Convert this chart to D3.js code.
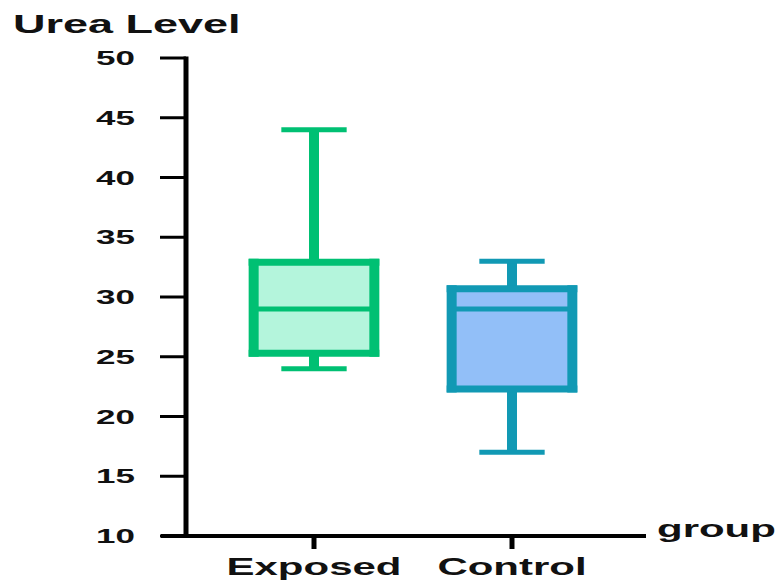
<!DOCTYPE html>
<html>
<head>
<meta charset="utf-8">
<script src="https://cdn.jsdelivr.net/npm/d3@7"></script>
<style>
  body { margin: 0; background: #fff; }
  text { font-family: "Liberation Sans", Arial, sans-serif; font-weight: bold; fill: #111; }
</style>
</head>
<body>
<main></main>
<script>
// data
var groups = ["Exposed", "Control"];
var mins    = [24, 17];
var q1s     = [25.3, 22.3];
var medians = [29, 29];
var q3s     = [32.9, 30.7];
var maxs    = [44, 33];
var strokes = ["#00c073", "#1199b4"];
var fills   = ["#b4f5dc", "#92bff8"];
var yTicks  = [10, 15, 20, 25, 30, 35, 40, 45, 50];

var stretch = 1.75; // text in the picture is wide

var svg = d3.select("main")
  .append("svg")
    .attr("width", 779)
    .attr("height", 584);

var x = d3.scaleBand().domain(groups).range([215, 611]);
var y = d3.scaleLinear().domain([10, 50]).range([536, 58]);

var boxW = x.bandwidth() * 0.66;
var capW = boxW / 2;

// axes
svg.append("line")
  .attr("x1", 161).attr("x2", 646)
  .attr("y1", y(10)).attr("y2", y(10))
  .attr("stroke", "#000").attr("stroke-width", 4);
svg.append("line")
  .attr("x1", 186).attr("x2", 186)
  .attr("y1", y(50) - 1.5).attr("y2", y(10))
  .attr("stroke", "#000").attr("stroke-width", 5);

yTicks.forEach(function(t) {
  svg.append("line")
    .attr("x1", 160).attr("x2", 186)
    .attr("y1", y(t)).attr("y2", y(t))
    .attr("stroke", "#000").attr("stroke-width", 3);
  svg.append("text")
    .attr("transform", "translate(135," + y(t) + ") scale(" + stretch + ",1)")
    .attr("text-anchor", "end")
    .attr("dy", "0.36em")
    .attr("font-size", 20)
    .text(t);
});

groups.forEach(function(g) {
  var cx = x(g) + x.bandwidth() / 2;
  svg.append("line")
    .attr("x1", cx).attr("x2", cx)
    .attr("y1", y(10)).attr("y2", y(10) + 13)
    .attr("stroke", "#000").attr("stroke-width", 5);
  svg.append("text")
    .attr("transform", "translate(" + cx + ",575) scale(" + stretch + ",1)")
    .attr("text-anchor", "middle")
    .attr("font-size", 24)
    .text(g);
});

svg.append("text")
  .attr("transform", "translate(13,33) scale(1.8,1)")
  .attr("font-size", 25)
  .text("Urea Level");

svg.append("text")
  .attr("transform", "translate(657,537) scale(" + stretch + ",1)")
  .attr("font-size", 24)
  .text("group");

// boxes
groups.forEach(function(g, i) {
  var cx = x(g) + x.bandwidth() / 2;
  var left = cx - boxW / 2 + 5, right = cx + boxW / 2 - 5;
  var c = strokes[i];
  var grp = svg.append("g");

  // whiskers
  grp.append("line")
    .attr("x1", cx).attr("x2", cx)
    .attr("y1", y(maxs[i])).attr("y2", y(q3s[i]))
    .attr("stroke", c).attr("stroke-width", 10);
  grp.append("line")
    .attr("x1", cx).attr("x2", cx)
    .attr("y1", y(q1s[i])).attr("y2", y(mins[i]))
    .attr("stroke", c).attr("stroke-width", 10);
  [maxs[i], mins[i]].forEach(function(v) {
    grp.append("line")
      .attr("x1", cx - capW / 2).attr("x2", cx + capW / 2)
      .attr("y1", y(v)).attr("y2", y(v))
      .attr("stroke", c).attr("stroke-width", 5);
  });

  grp.append("rect")
    .attr("x", left).attr("y", y(q3s[i]))
    .attr("width", right - left)
    .attr("height", y(q1s[i]) - y(q3s[i]))
    .attr("fill", fills[i]);

  [q3s[i], q1s[i]].forEach(function(v) {
    grp.append("line")
      .attr("x1", left - 5).attr("x2", right + 5)
      .attr("y1", y(v)).attr("y2", y(v))
      .attr("stroke", c).attr("stroke-width", 7);
  });
  grp.append("line")
    .attr("x1", left).attr("x2", right)
    .attr("y1", y(medians[i])).attr("y2", y(medians[i]))
    .attr("stroke", c).attr("stroke-width", 5);
  [left, right].forEach(function(xx) {
    grp.append("line")
      .attr("x1", xx).attr("x2", xx)
      .attr("y1", y(q3s[i]) - 3.5).attr("y2", y(q1s[i]) + 3.5)
      .attr("stroke", c).attr("stroke-width", 10);
  });
});
</script>
</body>
</html>
